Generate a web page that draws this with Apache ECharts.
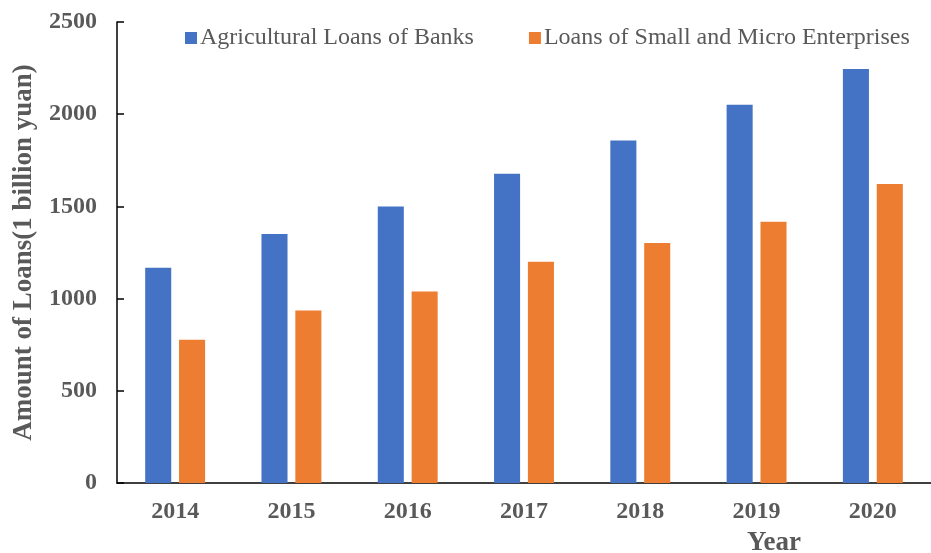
<!DOCTYPE html>
<html><head><meta charset="utf-8">
<script src="https://cdn.jsdelivr.net/npm/echarts@6/dist/echarts.min.js"></script>
<style>html,body{margin:0;padding:0;background:#fff;overflow:hidden}#c{width:931px;height:553px}</style>
</head><body><div id="c"></div>
<script>
const years = ['2014','2015','2016','2017','2018','2019','2020'];
const agriculturalLoans = [1167, 1351, 1500, 1677, 1857, 2051, 2245];
const smallMicroLoans = [777, 935, 1038, 1200, 1302, 1417, 1621];
const yTicks = {min: 0, max: 2500, interval: 500};

const serif = '"Liberation Serif","Times New Roman",serif';
const grey = '#595959';
const chart = echarts.init(document.getElementById('c'));
chart.setOption({
  animation: false,
  textStyle: {fontFamily: serif},
  grid: {left: 117, right: 0, top: 22, bottom: 70, containLabel: false, outerBoundsMode: 'none'},
  legend: {
    left: 180, top: 21, itemWidth: 12, itemHeight: 12, itemGap: 55,
    icon: 'rect',
    textStyle: {fontFamily: serif, fontSize: 24, color: grey, padding: [0,0,0,-2]},
    data: ['Agricultural Loans of Banks', 'Loans of Small and Micro Enterprises']
  },
  xAxis: {
    type: 'category', data: years,
    name: 'Year', nameLocation: 'middle', nameGap: 47,
    nameTextStyle: {fontFamily: serif, fontSize: 27, fontWeight: 'bold', color: grey, padding: [0,0,0,500]},
    axisLine: {lineStyle: {color: '#000', width: 1.5}},
    axisTick: {inside: true, length: 7, lineStyle: {color: '#000', width: 1.5}},
    axisLabel: {fontFamily: serif, fontSize: 24, fontWeight: 'bold', color: grey, margin: 17}
  },
  yAxis: {
    type: 'value', min: yTicks.min, max: yTicks.max, interval: yTicks.interval,
    name: 'Amount of Loans(1 billion yuan)', nameLocation: 'middle', nameGap: 79,
    nameTextStyle: {fontFamily: serif, fontSize: 27, fontWeight: 'bold', color: grey},
    axisLine: {show: true, lineStyle: {color: '#000', width: 1.5}},
    axisTick: {show: true, inside: true, length: 7, lineStyle: {color: '#000', width: 1.5}},
    splitLine: {show: false},
    axisLabel: {fontFamily: serif, fontSize: 24, fontWeight: 'bold', color: grey, margin: 20,
                formatter: v => String(v)}
  },
  series: [
    {name: 'Agricultural Loans of Banks', type: 'bar', data: agriculturalLoans,
     itemStyle: {color: '#4472C4'}, barWidth: '22.4%', barGap: '30%'},
    {name: 'Loans of Small and Micro Enterprises', type: 'bar', data: smallMicroLoans,
     itemStyle: {color: '#ED7D31'}, barWidth: '22.4%', barGap: '30%'}
  ]
});
</script></body></html>
